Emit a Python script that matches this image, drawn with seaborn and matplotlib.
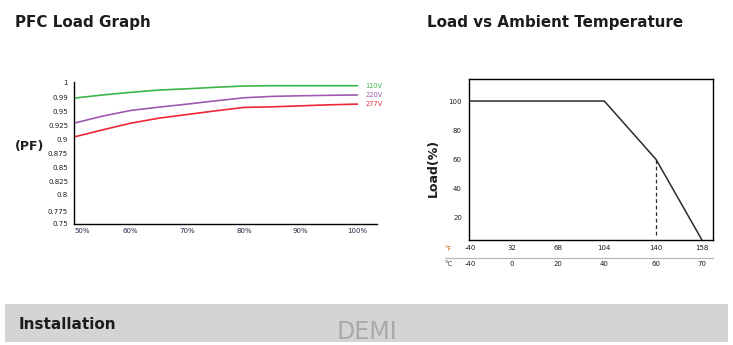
import numpy as np
import pandas as pd
import matplotlib
matplotlib.use("Agg")
import matplotlib.pyplot as plt
import matplotlib.transforms as mtransforms
from matplotlib.patches import Rectangle
import seaborn as sns

# ---------------- data ----------------
load_pct = [50, 55, 60, 65, 70, 75, 80, 85, 90, 95, 100]
pf_110v = [0.989, 0.9918, 0.9935, 0.9950, 0.9958, 0.9968, 0.9976, 0.9978, 0.9978, 0.9978, 0.9978]
pf_220v = [0.9288, 0.9419, 0.954, 0.9634, 0.972, 0.9814, 0.990, 0.9909, 0.9913, 0.9916, 0.9918]
pf_277v = [0.9041, 0.9166, 0.9288, 0.9382, 0.9451, 0.9529, 0.9626, 0.9643, 0.9671, 0.970, 0.972]
voltages = ["110V", "220V", "277V"]

pf_ticks = [0.75, 0.775, 0.8, 0.825, 0.85, 0.875, 0.9, 0.925, 0.95, 0.99, 1.0]
pf_tick_labels = ["0.75", "0.775", "0.8", "0.825", "0.85", "0.875", "0.9", "0.925", "0.95", "0.99", "1"]
load_ticks = [50, 60, 70, 80, 90, 100]
load_tick_labels = ["50%", "60%", "70%", "80%", "90%", "100%"]

temp_c = [-40, 40, 60, 70]
load_derate = [100, 100, 60, 5]
temps_c_ticks = [-40, 0, 20, 40, 60, 70]
temps_f_ticks = [-40, 32, 68, 104, 140, 158]
load_ticks_r = [20, 40, 60, 80, 100]

# ---------------- layout helpers (axis stops of the non-uniform printed scales) ----------------
PF_AXIS_STOPS = [0.7, 13.3, 30, 43.3, 56.7, 70.7, 85, 99, 112.3, 126.3, 141.7]
TEMP_AXIS_STOPS = [470, 511.7, 558.3, 604.3, 656, 701.7]


def piecewise(vals, pos):
    vals = np.asarray(vals, float)
    pos = np.asarray(pos, float)
    s0 = (pos[1] - pos[0]) / (vals[1] - vals[0])
    s1 = (pos[-1] - pos[-2]) / (vals[-1] - vals[-2])

    def fwd(x):
        x = np.asarray(x, float)
        y = np.interp(x, vals, pos)
        y = np.where(x < vals[0], pos[0] + (x - vals[0]) * s0, y)
        y = np.where(x > vals[-1], pos[-1] + (x - vals[-1]) * s1, y)
        return y

    def inv(y):
        y = np.asarray(y, float)
        x = np.interp(y, pos, vals)
        x = np.where(y < pos[0], vals[0] + (y - pos[0]) / s0, x)
        x = np.where(y > pos[-1], vals[-1] + (y - pos[-1]) / s1, x)
        return x

    return fwd, inv


sns.set_theme(style="white")
plt.rcParams["font.family"] = ["DejaVu Sans"]

W, H = 733, 345
fig = plt.figure(figsize=(W / 100, H / 100), dpi=100)
fig.patch.set_facecolor("white")


def fx(px):
    return px / W


def fy(py):
    return 1 - py / H


TXT = "#1c1c1c"
TICK = "#23284a"

# ---------------- left chart ----------------
ax1 = fig.add_axes([fx(74), fy(224), fx(376.7) - fx(74), fy(82.3) - fy(224)])
df = pd.DataFrame({
    "load": load_pct * 3,
    "pf": pf_110v + pf_220v + pf_277v,
    "voltage": [v for v in voltages for _ in load_pct],
})
palette = {"110V": "#3db54a", "220V": "#a05aaf", "277V": "#ec2836"}
ax1.set_yscale("function", functions=piecewise(pf_ticks, PF_AXIS_STOPS))
sns.lineplot(data=df, x="load", y="pf", hue="voltage", palette=palette,
             linewidth=1.2, legend=False, ax=ax1)
for ln in ax1.get_lines():
    ln.set_solid_joinstyle("round")
ax1.set_xlim(50, 103.4)
ax1.set_ylim(0.75, 1.0)
ax1.set_yticks(pf_ticks)
ax1.set_yticklabels(pf_tick_labels)
ax1.set_xticks(load_ticks)
ax1.set_xticklabels(load_tick_labels)
ax1.get_xticklabels()[0].set_horizontalalignment("left")
ax1.tick_params(axis="y", length=0, pad=4.3, labelsize=5, labelcolor=TXT)
ax1.tick_params(axis="x", length=0, pad=3, labelsize=5, labelcolor=TICK)
ax1.set_xlabel("")
ax1.set_ylabel("")
for s in ["top", "right"]:
    ax1.spines[s].set_visible(False)
for s in ["left", "bottom"]:
    ax1.spines[s].set_color("black")
    ax1.spines[s].set_linewidth(1.0)
for v, vals in zip(voltages, [pf_110v, pf_220v, pf_277v]):
    ax1.annotate(v, xy=(load_pct[-1], vals[-1]), xytext=(5.5, 0),
                 textcoords="offset points", va="center", ha="left",
                 fontsize=4.8, color=palette[v])
fig.text(fx(30), fy(146.7), "(PF)", ha="center", va="center",
         fontsize=9, fontweight="bold", color=TXT)

# ---------------- right chart ----------------
ax2 = fig.add_axes([fx(468.5), fy(240.3), fx(712.7) - fx(468.5), fy(79.3) - fy(240.3)])
ax2.set_xscale("function", functions=piecewise(temps_c_ticks, TEMP_AXIS_STOPS))
dr = pd.DataFrame({"temp": temp_c, "load": load_derate})
sns.lineplot(data=dr, x="temp", y="load", sort=False, color="#2b2b2b",
             linewidth=1.1, ax=ax2)
ax2.vlines(temp_c[2], 8, load_derate[2], colors="#2b2b2b", linestyles=(0, (3, 2.2)),
           linewidth=0.9)
ax2.set_xlim(-41.4, 72.4)
ax2.set_ylim(4.5, 114.9)
ax2.set_yticks(load_ticks_r)
ax2.set_xticks(temps_c_ticks)
ax2.set_xticklabels([str(f) for f in temps_f_ticks])
ax2.tick_params(axis="y", length=0, pad=4.7, labelsize=5, labelcolor=TXT)
ax2.tick_params(axis="x", length=0, pad=3.4, labelsize=5, labelcolor=TXT)
ax2.set_xlabel("")
ax2.set_ylabel("")
for s in ax2.spines.values():
    s.set_visible(True)
    s.set_color("black")
    s.set_linewidth(1.0)
blend = mtransforms.blended_transform_factory(ax2.transData, ax2.transAxes)
for c in temps_c_ticks:
    ax2.text(c, -0.145, str(c), transform=blend, ha="center", va="center",
             fontsize=5, color=TXT, clip_on=False)
ax2.text(-0.082, -0.052, "°F", transform=ax2.transAxes, ha="center", va="center",
         fontsize=5, color="#c9782c", clip_on=False)
ax2.text(-0.082, -0.145, "°C", transform=ax2.transAxes, ha="center", va="center",
         fontsize=5, color="#444444", clip_on=False)
ax2.plot([-0.0975, 1.0], [-0.108, -0.108], transform=ax2.transAxes,
         color="#b8b8b8", linewidth=0.9, clip_on=False)
fig.text(fx(433), fy(168.3), "Load(%)", rotation=90, ha="center", va="center",
         fontsize=9, fontweight="bold", color=TXT)

# ---------------- titles and footer band ----------------
fig.text(fx(15), fy(22), "PFC Load Graph", ha="left", va="center",
         fontsize=10.9, fontweight="bold", color=TXT)
fig.text(fx(426.7), fy(22), "Load vs Ambient Temperature", ha="left", va="center",
         fontsize=10.9, fontweight="bold", color=TXT)
fig.patches.append(Rectangle((fx(5), fy(341.7)), fx(728) - fx(5), fy(304) - fy(341.7),
                             transform=fig.transFigure, facecolor="#d4d4d4",
                             edgecolor="none", zorder=0))
fig.text(fx(19), fy(324.4), "Installation", ha="left", va="center",
         fontsize=11, fontweight="bold", color=TXT)
fig.text(fx(367), fy(332), "DEMI", ha="center", va="center",
         fontsize=17, color="#a9a9a9")

fig.savefig("out.png", dpi=100, facecolor="white")
